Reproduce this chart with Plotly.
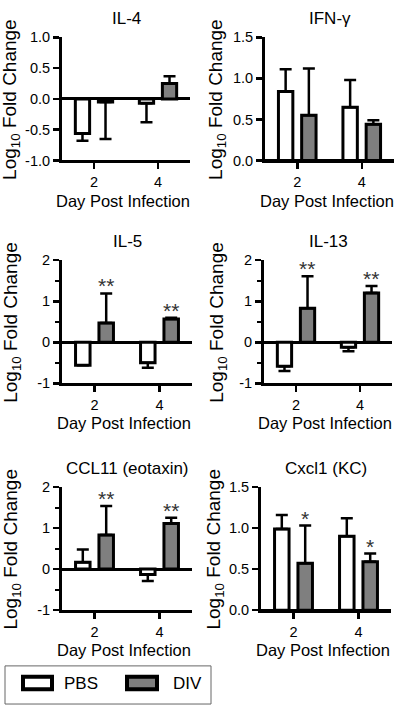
import plotly.graph_objects as go

# ---------------- data ----------------
days = ["2", "4"]

il4_pbs = [-0.56, -0.07]
il4_pbs_err = [0.12, 0.31]
il4_div = [-0.05, 0.25]
il4_div_err = [0.60, 0.12]

ifn_pbs = [0.84, 0.65]
ifn_pbs_err = [0.27, 0.33]
ifn_div = [0.55, 0.44]
ifn_div_err = [0.57, 0.05]

il5_pbs = [-0.56, -0.50]
il5_pbs_err = [0.0, 0.12]
il5_div = [0.47, 0.57]
il5_div_err = [0.72, 0.03]

il13_pbs = [-0.58, -0.12]
il13_pbs_err = [0.12, 0.10]
il13_div = [0.83, 1.20]
il13_div_err = [0.78, 0.17]

ccl11_pbs = [0.17, -0.13]
ccl11_pbs_err = [0.31, 0.16]
ccl11_div = [0.83, 1.11]
ccl11_div_err = [0.71, 0.14]

cxcl1_pbs = [0.99, 0.90]
cxcl1_pbs_err = [0.17, 0.22]
cxcl1_div = [0.57, 0.59]
cxcl1_div_err = [0.46, 0.10]

titles = ["IL-4", "IFN-γ", "IL-5", "IL-13", "CCL11 (eotaxin)", "Cxcl1 (KC)"]
stars_il5 = ["**", "**"]
stars_il13 = ["**", "**"]
stars_ccl11 = ["**", "**"]
stars_cxcl1 = ["*", "*"]

yt_pm1 = [-1, -0.5, 0, 0.5, 1]
yt_pm1_text = ["-1.0", "-0.5", "0.0", "0.5", "1.0"]
yt_015 = [0, 0.5, 1, 1.5]
yt_015_text = ["0.0", "0.5", "1.0", "1.5"]
yt_m12 = [-1, 0, 1, 2]
yt_m12_text = ["-1", "0", "1", "2"]
yt_m12_minor = [-0.5, 0.5, 1.5]

legend_names = ["PBS", "DIV"]

# ---------------- layout helpers ----------------
W, H = 400, 713
FONT = "Arial, Liberation Sans, sans-serif"
PBS_FILL = "white"
DIV_FILL = "#7f7f7f"


def fx(px):
    return px / W


def fy(py):
    return 1 - py / H


panels = [
    # (pbs, pbs_err, div, div_err, yrange, tickvals, ticktext, minor, stars, xdom_px, ydom_px, ytitle_x_px)
    (il4_pbs, il4_pbs_err, il4_div, il4_div_err, [-1, 1], yt_pm1, yt_pm1_text, None, None, (62, 190), (30, 156), 11),
    (ifn_pbs, ifn_pbs_err, ifn_div, ifn_div_err, [0, 1.5], yt_015, yt_015_text, None, None, (265, 394), (30, 156), 217),
    (il5_pbs, il5_pbs_err, il5_div, il5_div_err, [-1, 2], yt_m12, yt_m12_text, yt_m12_minor, stars_il5, (62, 192), (258, 384), 12),
    (il13_pbs, il13_pbs_err, il13_div, il13_div_err, [-1, 2], yt_m12, yt_m12_text, yt_m12_minor, stars_il13, (264, 392), (258, 384), 218),
    (ccl11_pbs, ccl11_pbs_err, ccl11_div, ccl11_div_err, [-1, 2], yt_m12, yt_m12_text, yt_m12_minor, stars_ccl11, (62, 192), (490, 616), 12),
    (cxcl1_pbs, cxcl1_pbs_err, cxcl1_div, cxcl1_div_err, [0, 1.5], yt_015, yt_015_text, None, stars_cxcl1, (261, 391), (490, 616), 215),
]

fig = go.Figure()
annotations = []
shapes = []
layout = dict()


def err_dict(vals, errs):
    up = [e if v >= 0 else 0 for v, e in zip(vals, errs)]
    dn = [e if v < 0 else 0 for v, e in zip(vals, errs)]
    return dict(type="data", symmetric=False, array=up, arrayminus=dn,
                color="black", thickness=2.5, width=6)


for i, (pbs, pbse, div, dive, yr, tv, tt, minor, stars, xd, yd, ytx) in enumerate(panels):
    n = "" if i == 0 else str(i + 1)
    xa, ya = "x" + n, "y" + n
    fig.add_trace(go.Bar(x=days, y=pbs, name=legend_names[0], xaxis=xa, yaxis=ya,
                         marker=dict(color=PBS_FILL, line=dict(color="black", width=3)),
                         error_y=err_dict(pbs, pbse), showlegend=False))
    fig.add_trace(go.Bar(x=days, y=div, name=legend_names[1], xaxis=xa, yaxis=ya,
                         marker=dict(color=DIV_FILL, line=dict(color="black", width=3)),
                         error_y=err_dict(div, dive), showlegend=False))
    layout["xaxis" + n] = dict(
        domain=[fx(xd[0]), fx(xd[1])], anchor=ya, type="category", range=[-0.5, 1.5],
        showline=True, linewidth=3, linecolor="black", ticks="outside", ticklen=6,
        tickwidth=2.5, tickcolor="black", showgrid=False, zeroline=False,
        tickfont=dict(family=FONT, size=14.5, color="black"), fixedrange=True)
    yax = dict(
        domain=[fy(yd[1]), fy(yd[0])], anchor=xa, range=yr,
        tickmode="array", tickvals=tv, ticktext=tt,
        showline=True, linewidth=3, linecolor="black", ticks="outside", ticklen=6,
        tickwidth=2.5, tickcolor="black", showgrid=False,
        zeroline=True, zerolinewidth=3, zerolinecolor="black",
        tickfont=dict(family=FONT, size=14.5, color="black"), fixedrange=True)
    if minor is not None:
        yax["minor"] = dict(tickmode="array", tickvals=minor, ticks="outside",
                            ticklen=4, tickwidth=2, tickcolor="black", showgrid=False)
    layout["yaxis" + n] = yax

    # panel title
    annotations.append(dict(text=titles[i], xref="paper", yref="paper",
                            x=fx((xd[0] + xd[1]) / 2), y=fy(yd[0] - 19),
                            xanchor="center", yanchor="middle", showarrow=False,
                            font=dict(family=FONT, size=17, color="black")))
    # x-axis title
    annotations.append(dict(text="Day Post Infection", xref="paper", yref="paper",
                            x=fx((xd[0] + xd[1]) / 2 - 3), y=fy(yd[1] + 41),
                            xanchor="center", yanchor="middle", showarrow=False,
                            font=dict(family=FONT, size=16.5, color="black")))
    # y-axis title
    annotations.append(dict(text="Log<sub>10</sub> Fold Change", xref="paper", yref="paper",
                            x=fx(ytx), y=fy((yd[0] + yd[1]) / 2 + 1),
                            xanchor="center", yanchor="middle", textangle=-90, showarrow=False,
                            font=dict(family=FONT, size=19, color="black")))
    # significance stars above DIV bars
    if stars is not None:
        for k, (v, e, s) in enumerate(zip(div, dive, stars)):
            annotations.append(dict(text=s, xref=xa, yref=ya, x=k, y=v + e,
                                    xanchor="center", yanchor="bottom", xshift=11, yshift=-6,
                                    showarrow=False,
                                    font=dict(family=FONT, size=21, color="#333333")))

# ---------------- legend (drawn box) ----------------
shapes.append(dict(type="rect", xref="paper", yref="paper",
                   x0=fx(5), x1=fx(211), y0=fy(712), y1=fy(673),
                   line=dict(color="#666666", width=1), fillcolor="white"))
shapes.append(dict(type="rect", xref="paper", yref="paper",
                   x0=fx(23), x1=fx(52), y0=fy(697), y1=fy(684),
                   line=dict(color="black", width=4), fillcolor=PBS_FILL))
shapes.append(dict(type="rect", xref="paper", yref="paper",
                   x0=fx(127), x1=fx(157), y0=fy(697), y1=fy(684),
                   line=dict(color="black", width=4), fillcolor=DIV_FILL))
annotations.append(dict(text=legend_names[0], xref="paper", yref="paper", x=fx(62), y=fy(691),
                        xanchor="left", yanchor="middle", showarrow=False,
                        font=dict(family=FONT, size=17, color="black")))
annotations.append(dict(text=legend_names[1], xref="paper", yref="paper", x=fx(171), y=fy(691),
                        xanchor="left", yanchor="middle", showarrow=False,
                        font=dict(family=FONT, size=17, color="black")))

fig.update_layout(
    width=W, height=H, margin=dict(l=0, r=0, t=0, b=0),
    paper_bgcolor="white", plot_bgcolor="white",
    barmode="group", bargap=0.28, bargroupgap=0.38,
    showlegend=False, annotations=annotations, shapes=shapes,
    font=dict(family=FONT, color="black"),
    **layout)

fig.write_html("out.html", config={"displayModeBar": False, "staticPlot": True},
               post_script="document.body.style.margin='0';document.body.style.padding='0';")
